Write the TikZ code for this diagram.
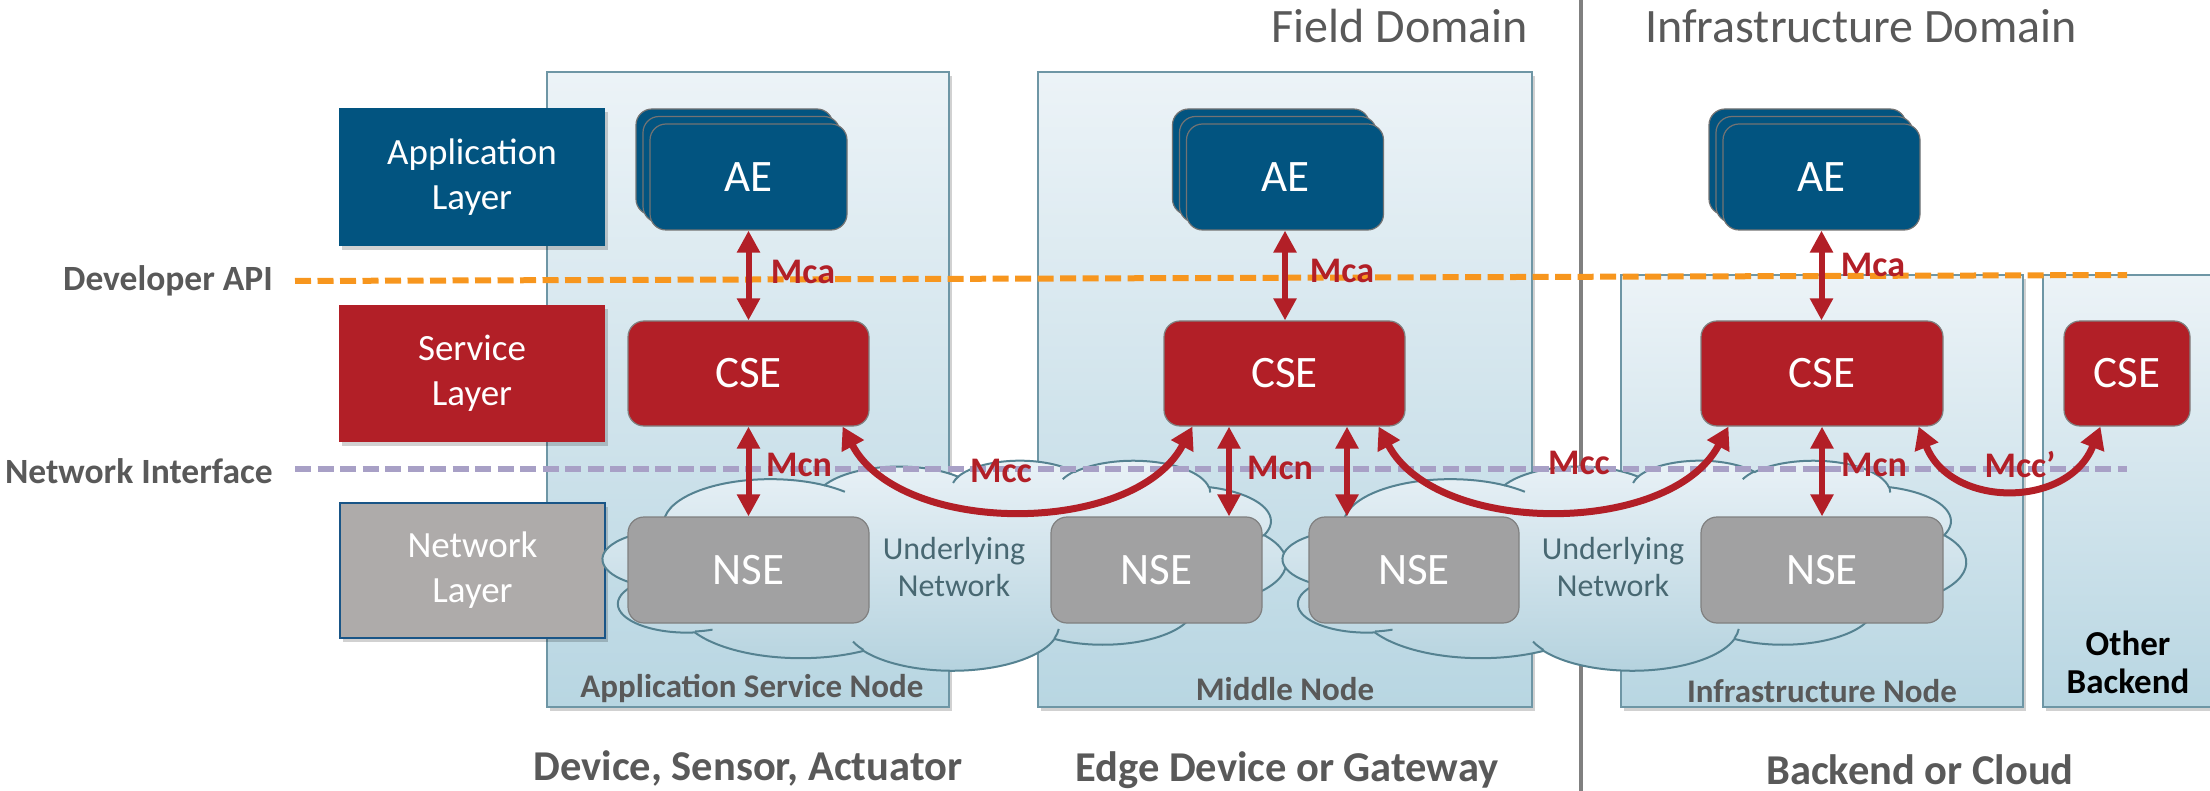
\documentclass[tikz,border=0pt]{standalone}
\usepackage{fontspec}
\setmainfont{Carlito}
\usetikzlibrary{arrows.meta,calc,shadows}
\definecolor{aeblue}{RGB}{2,84,128}
\definecolor{csered}{RGB}{178,31,39}
\definecolor{nsegray}{RGB}{161,161,162}
\definecolor{netlayer}{RGB}{174,171,170}
\definecolor{netborder}{RGB}{25,85,135}
\definecolor{txtgray}{RGB}{89,89,89}
\definecolor{boxtop}{RGB}{236,243,247}
\definecolor{boxbot}{RGB}{184,214,226}
\definecolor{boxborder}{RGB}{110,150,165}
\definecolor{cloudtop}{RGB}{234,242,247}
\definecolor{cloudbot}{RGB}{180,210,222}
\definecolor{cloudborder}{RGB}{85,130,145}
\definecolor{apiorange}{RGB}{247,150,30}
\definecolor{netlav}{RGB}{168,160,198}
\definecolor{undertxt}{RGB}{72,104,114}
\definecolor{divgray}{RGB}{128,128,128}
\newcommand\ooarc[4]{arc[x radius=#1, y radius=#2, start angle={atan2(#1*sin(#3),#2*cos(#3))}, delta angle={mod(atan2(#1*sin(#3+#4),#2*cos(#3+#4))-atan2(#1*sin(#3),#2*cos(#3))+720,360)}]}
\newcommand\drawcloud[3]{%
\begin{scope}[xshift=#1pt, yshift=-#2pt, x=1.581pt, y=-0.4861pt]
\path[draw=cloudborder, line width=2pt, top color=cloudtop, bottom color=cloudbot, name=#3]
 (39.00,143.70) \ooarc{67.53}{91.90}{-190.48748}{123.78053}
 \ooarc{53.33}{72.67}{-144.10238}{89.94523}
 \ooarc{43.65}{59.45}{-145.80792}{99.72302}
 \ooarc{48.57}{65.95}{-130.98607}{117.24173}
 \ooarc{53.33}{72.73}{-78.70888}{109.02692}
 \ooarc{67.75}{92.20}{-46.26725}{130.269}
 \ooarc{57.85}{78.67}{0.62502}{114.03333}
 \ooarc{67.52}{92.15}{22.4516}{115.17255}
 \ooarc{77.20}{105.43}{66.24263}{75.71102}
 \ooarc{43.60}{59.18}{-274.94208}{146.73557}
 \ooarc{43.45}{59.45}{-246.8285}{152.51885} -- cycle;
\draw[cloudborder, line width=2pt]
 (46.93,261.77) \ooarc{43.45}{59.45}{86.742}{26.4295}
 (69.28,348.99) \ooarc{43.60}{59.18}{73.61047}{11.44747}
 (164.78,390.90) \ooarc{67.52}{92.15}{137.62415}{14.0811}
 (288.27,347.51) \ooarc{67.52}{92.15}{6.45327}{15.99835}
 (341.29,229.54) \ooarc{57.85}{78.67}{-70.29235}{70.91737}
 (417.98,153.54) \ooarc{53.33}{72.73}{30.31803}{27.7515}
 (383.24,54.26) \ooarc{48.57}{65.95}{-13.74433}{14.8571}
 (290.78,39.52) \ooarc{48.57}{65.95}{-149.18145}{18.18815}
 (221.41,47.20) \ooarc{43.65}{59.45}{-163.49427}{17.69632}
 (140.00,51.92) \ooarc{67.53}{91.90}{-66.70695}{12.31935}
 (41.27,157.89) \ooarc{67.53}{91.90}{157.65435}{11.85817};
\end{scope}}
\tikzset{
 softshadow/.style={drop shadow={shadow xshift=3pt, shadow yshift=-4pt, opacity=0.18, fill=black}},
 nodebox/.style={draw=boxborder, line width=2pt, top color=boxtop, bottom color=boxbot, rectangle, inner sep=0pt, softshadow},
 layerbox/.style={rectangle, inner sep=0pt, minimum width=266pt, text=white, align=center, font=\fontsize{37}{45}\selectfont, softshadow},
 aebox/.style={rectangle, rounded corners=16pt, fill=aeblue, draw=black!55, line width=1.2pt, minimum width=197pt, minimum height=106pt, text=white, font=\fontsize{45}{54}\selectfont},
 csebox/.style={rectangle, rounded corners=16pt, fill=csered, draw=black!50, line width=1.2pt, minimum height=105pt, text=white, font=\fontsize{45}{54}\selectfont},
 nsebox/.style={rectangle, rounded corners=16pt, fill=nsegray, draw=black!50, line width=1.2pt, minimum height=106pt, text=white, font=\fontsize{45}{54}\selectfont},
 varrow/.style={draw=csered, line width=6pt, {Triangle[width=22pt,length=22pt]}-{Triangle[width=22pt,length=22pt]}},
 ccarrow/.style={draw=csered, line width=7pt, {Triangle[width=24pt,length=22pt]}-{Triangle[width=24pt,length=22pt]}},
 iflabel/.style={text=csered, font=\bfseries\fontsize{36}{42}\selectfont, inner sep=0pt},
 sidelabel/.style={text=txtgray, font=\bfseries\fontsize{35.5}{42}\selectfont, inner sep=0pt},
 nodelabel/.style={text=txtgray, font=\bfseries\fontsize{33}{38}\selectfont, inner sep=0pt},
 bottomlabel/.style={text=txtgray, font=\bfseries\fontsize{42.5}{50}\selectfont, inner sep=0pt},
 domainlabel/.style={text=txtgray, font=\fontsize{48}{56}\selectfont, inner sep=0pt},
 undertext/.style={text=undertxt, align=center, font=\fontsize{32}{37}\selectfont, inner sep=0pt},
 dashline/.style={line width=6pt, dash pattern=on 16pt off 6.5pt},
}
\begin{document}
\begin{tikzpicture}[x=1pt,y=-1pt]
\useasboundingbox (0,0) rectangle (2210,791);
\clip (0,0) rectangle (2210,791);
% node boxes
\node[nodebox, minimum width=402pt, minimum height=635pt] (asn) at (748,389.5) {};
\node[nodebox, minimum width=494pt, minimum height=635pt] (mn) at (1285,389.5) {};
\node[nodebox, minimum width=402pt, minimum height=432pt] (inn) at (1822,491) {};
\node[nodebox, minimum width=190pt, minimum height=432pt] (obn) at (2138,491) {};
% divider
\coordinate (dtop) at (1581,0);
\coordinate (dbot) at (1581,791);
\draw[divgray, line width=4pt] (dtop) -- (dbot);
% layer boxes
\node[layerbox, fill=aeblue, minimum height=138pt] (applayer) at (472,177) {Application\\Layer};
\node[layerbox, fill=csered, minimum height=137pt] (svclayer) at (472,373.5) {Service\\Layer};
\node[layerbox, fill=netlayer, draw=netborder, line width=2pt, minimum width=265pt, minimum height=135pt] (netlayerbox) at (472.5,570.5) {Network\\Layer};
% clouds
\drawcloud{603}{460}{cloudA}
\drawcloud{1283}{460}{cloudB}
\node[undertext] (un1) at (954,567) {Underlying\\Network};
\node[undertext] (un2) at (1613,567) {Underlying\\Network};
% dashed interface lines
\node[sidelabel, anchor=east] (devapi) at (273,281) {Developer API};
\node[sidelabel, anchor=east] (netif) at (273,471) {Network Interface};
\coordinate (apiend) at (2127,275);
\coordinate (ifend) at (2127,469);
\draw[dashline, apiorange] ([xshift=22pt]devapi.east) -- (apiend);
\draw[dashline, netlav] ([xshift=22pt]netif.east |- ifend) -- (ifend);
% AE stacks
\foreach \n/\x in {ae1/748.5, ae2/1285, ae3/1821.5}{
  \node[aebox] at (\x-14,162) {};
  \node[aebox] at (\x-7,169.5) {};
  \node[aebox] (\n) at (\x,177) {AE};
}
% CSE
\node[csebox, minimum width=241pt] (cse1) at (748.5,373.5) {CSE};
\node[csebox, minimum width=241pt] (cse2) at (1284.5,373.5) {CSE};
\node[csebox, minimum width=242pt] (cse3) at (1822,373.5) {CSE};
\node[csebox, minimum width=126pt] (cse4) at (2127,373.5) {CSE};
% NSE
\node[nsebox, minimum width=241pt] (nse1) at (748.5,570) {NSE};
\node[nsebox, minimum width=211pt] (nse2a) at (1156.5,570) {NSE};
\node[nsebox, minimum width=210pt] (nse2b) at (1414,570) {NSE};
\node[nsebox, minimum width=242pt] (nse3) at (1822,570) {NSE};
% Mca arrows
\draw[varrow] (ae1.south) -- (cse1.north);
\draw[varrow] (ae2.south) -- (ae2.south |- cse2.north);
\draw[varrow] (ae3.south) -- (ae3.south |- cse3.north);
% Mcn arrows
\coordinate (mA) at (1229,0);
\coordinate (mB) at (1347,0);
\draw[varrow] (cse1.south) -- (nse1.north);
\draw[varrow] (cse2.south -| mA) -- (nse2a.north -| mA);
\draw[varrow] (cse2.south -| mB) -- (nse2b.north -| mB);
\draw[varrow] (cse3.south) -- (nse3.north);
% Mcc arcs
\draw[ccarrow] ([xshift=-27pt]cse1.south east) .. controls +(58,110) and +(-58,110) .. ([xshift=29pt]cse2.south west);
\draw[ccarrow] ([xshift=-27pt]cse2.south east) .. controls +(58,110) and +(-58,110) .. ([xshift=28pt]cse3.south west);
\draw[ccarrow] ([xshift=-25pt]cse3.south east) .. controls +(32,82) and +(-32,82) .. ([xshift=37pt]cse4.south west);
% interface labels
\node[iflabel] (mca1) at (803,272) {Mca};
\node[iflabel] (mca2) at (1342,271) {Mca};
\node[iflabel] (mca3) at (1873,265) {Mca};
\node[iflabel] (mcn1) at (799,465) {Mcn};
\node[iflabel] (mcn2) at (1280,468) {Mcn};
\node[iflabel] (mcn3) at (1874,465) {Mcn};
\node[iflabel] (mcc1) at (1001,471) {Mcc};
\node[iflabel] (mcc2) at (1579,463) {Mcc};
\node[iflabel] (mcc3) at (2020,465) {Mcc’};
% node labels
\node[nodelabel] (asnl) at (752,688) {Application Service Node};
\node[nodelabel] (mnl) at (1285,689) {Middle Node};
\node[nodelabel] (innl) at (1822,691) {Infrastructure Node};
\node[nodelabel, text=black, align=center, font=\bfseries\fontsize{35}{38}\selectfont] (obl) at (2128,662) {Other\\Backend};
% bottom and top labels
\node[bottomlabel] (dev) at (748,768) {Device, Sensor, Actuator};
\node[bottomlabel] (edge) at (1287,770) {Edge Device or Gateway};
\node[bottomlabel] (cloud) at (1920,770) {Backend or Cloud};
\node[domainlabel] (fd) at (1400,26) {Field Domain};
\node[domainlabel] (idm) at (1861,26) {Infrastructure Domain};
\end{tikzpicture}
\end{document}
